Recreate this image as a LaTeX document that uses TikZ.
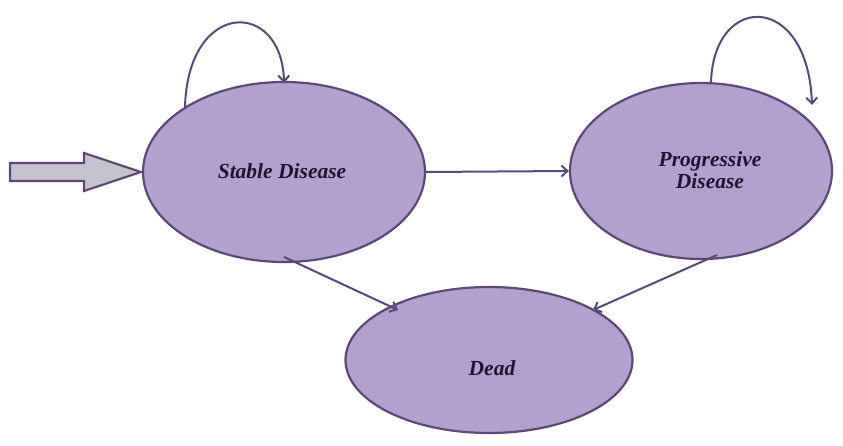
\documentclass[tikz,border=0pt]{standalone}
\usepackage{fontspec}
\setmainfont{Liberation Serif}
\usetikzlibrary{shapes.geometric,arrows.meta}
\definecolor{edge}{HTML}{5A4878}
\definecolor{fillp}{HTML}{B3A1CD}
\definecolor{txt}{HTML}{1C1430}
\definecolor{greyf}{HTML}{C4C2CA}
\tikzset{
  state/.style={ellipse, draw=edge, fill=fillp, line width=2.2pt, inner sep=0pt},
  statetext/.style={font=\fontsize{21.5}{22}\selectfont\bfseries\itshape, text=txt, align=center, inner sep=0pt},
  conn/.style={draw=edge, line width=2pt, -{Straight Barb[length=6pt,width=11pt,line width=2pt]}}
}
\begin{document}
\begin{tikzpicture}[x=1pt,y=-1pt]
\useasboundingbox (0,0) rectangle (843,446);
\node[state, minimum width=282pt, minimum height=180pt] (sd) at (284,172) {};
\node[state, minimum width=262pt, minimum height=176pt] (pd) at (701,171) {};
\node[state, minimum width=287pt, minimum height=146pt] (dd) at (489,360) {};
\node[statetext] (sdt) at (282,171) {Stable Disease};
\node[statetext] (pdt) at (710,170) {Progressive\\Disease};
\node[statetext] (ddt) at (492,368) {Dead};
% entry arrow
\coordinate (tip) at (141,172);
\draw[draw=edge, fill=greyf, line width=2.2pt, line join=miter]
  (10,163) -- (84,163) -- (84,153) -- (tip) -- (84,191) -- (84,181) -- (10,181) -- cycle;
% self loops
\coordinate (s1) at (185,107);
\coordinate (e1) at (284,83);
\draw[conn] (s1) .. controls (188,-1) and (282,-1) .. (e1);
\coordinate (s2) at (711,82);
\coordinate (e2) at (812,105);
\draw[conn] (s2) .. controls (714,-8) and (808,-8) .. (e2);
% transitions
\draw[conn] (sd.east) -- (pd.west);
\coordinate (a1) at (284,257);
\coordinate (b1) at (398,310);
\draw[conn] (a1) -- (b1);
\coordinate (a2) at (717,255);
\coordinate (b2) at (593,310);
\draw[conn] (a2) -- (b2);
\end{tikzpicture}
\end{document}
